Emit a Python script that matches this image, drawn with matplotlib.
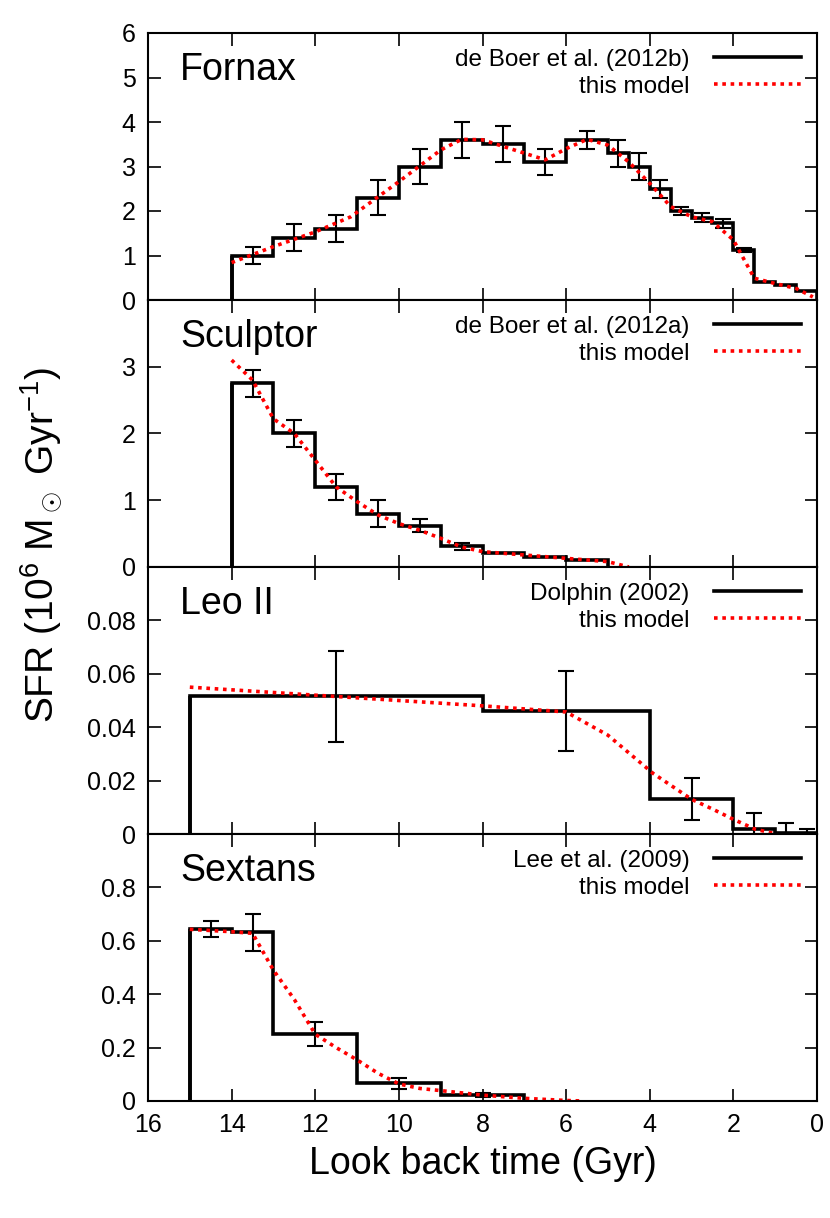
import matplotlib
matplotlib.use("Agg")
import matplotlib.pyplot as plt
import numpy as np

plt.rcParams['font.family'] = ['Liberation Sans', 'DejaVu Sans']
plt.rcParams['mathtext.fontset'] = 'custom'
plt.rcParams['mathtext.rm'] = 'Liberation Sans'

# ---- Fornax ----
forn_edges = [14, 13, 12, 11, 10, 9, 8, 7, 6, 5, 4.5, 4, 3.5, 3, 2.5, 2, 1.5, 1, 0.5, 0]
forn_sfr = [1.0, 1.4, 1.6, 2.3, 3.0, 3.6, 3.5, 3.1, 3.6, 3.3, 3.0, 2.5, 2.0, 1.85, 1.72, 1.12, 0.41, 0.34, 0.2]
forn_err_x = [13.5, 12.5, 11.5, 10.5, 9.5, 8.5, 7.5, 6.5, 5.5, 4.75, 4.25, 3.75, 3.25, 2.75, 2.25, 1.75]
forn_err_y = [1.0, 1.4, 1.6, 2.3, 3.0, 3.6, 3.5, 3.1, 3.6, 3.3, 3.0, 2.5, 2.0, 1.85, 1.72, 1.12]
forn_err = [0.2, 0.3, 0.3, 0.4, 0.4, 0.4, 0.4, 0.3, 0.2, 0.3, 0.3, 0.2, 0.1, 0.1, 0.1, 0.05]
forn_mod_t = [14, 13, 12, 11.15, 10, 9, 8.5, 8, 7, 6.5, 6, 5.5, 5, 4.5, 4, 3.5, 3, 2.5, 2, 1.5, 1, 0.5, 0.1]
forn_mod = [0.84, 1.2, 1.53, 1.87, 2.66, 3.37, 3.61, 3.6, 3.3, 3.15, 3.4, 3.61, 3.48, 3.1, 2.62, 2.1, 1.87, 1.76, 1.35, 0.49, 0.37, 0.26, 0.07]

# ---- Sculptor ----
scl_edges = [14, 13, 12, 11, 10, 9, 8, 7, 6, 5]
scl_sfr = [2.75, 2.0, 1.2, 0.8, 0.62, 0.31, 0.21, 0.15, 0.1]
scl_err_x = [13.5, 12.5, 11.5, 10.5, 9.5, 8.5]
scl_err_y = [2.75, 2.0, 1.2, 0.8, 0.62, 0.31]
scl_err = [0.2, 0.2, 0.2, 0.2, 0.1, 0.05]
scl_mod_t = [14, 13.5, 13, 12.5, 12, 11.5, 11, 10.5, 10, 9.5, 9, 8.5, 8, 7, 6, 5, 4.5]
scl_mod = [3.1, 2.8, 2.22, 2.0, 1.6, 1.2, 0.98, 0.78, 0.65, 0.55, 0.43, 0.3, 0.23, 0.18, 0.13, 0.08, 0.0]

# ---- Leo II ----
leo_edges = [15, 8, 4, 2, 1, 0.5, 0]
leo_sfr = [0.0515, 0.046, 0.013, 0.0018, 0.0005, 0.0003]
leo_err_x = [11.5, 6, 3, 1.5, 0.75, 0.25]
leo_err_y = [0.0515, 0.046, 0.013, 0.0018, 0.0005, 0.0003]
leo_err = [0.017, 0.015, 0.0078, 0.006, 0.0035, 0.0016]
leo_mod_t = [15, 12, 8, 6, 5, 3.92, 3, 2.48, 2, 1.48, 0.96]
leo_mod = [0.055, 0.052, 0.048, 0.0457, 0.037, 0.0227, 0.013, 0.0092, 0.0055, 0.0018, 0.0]

# ---- Sextans ----
sex_edges = [15, 14, 13, 11, 9, 7]
sex_sfr = [0.643, 0.632, 0.25, 0.066, 0.022]
sex_err_x = [14.5, 13.5, 12, 10, 8]
sex_err_y = [0.643, 0.632, 0.25, 0.066, 0.022]
sex_err = [0.03, 0.07, 0.045, 0.02, 0.007]
sex_mod_t = [15, 14, 13.5, 13, 12.5, 12, 11.5, 11, 10.5, 10, 9.5, 9, 8, 7, 6, 5.6]
sex_mod = [0.643, 0.634, 0.628, 0.49, 0.38, 0.25, 0.2, 0.154, 0.104, 0.064, 0.047, 0.039, 0.022, 0.01, 0.002, 0.0]

panels = [
    ("Fornax", "de Boer et al. (2012b)", forn_edges, forn_sfr, forn_err_x, forn_err_y, forn_err, forn_mod_t, forn_mod, 6, [0, 1, 2, 3, 4, 5, 6], None),
    ("Sculptor", "de Boer et al. (2012a)", scl_edges, scl_sfr, scl_err_x, scl_err_y, scl_err, scl_mod_t, scl_mod, 4, [0, 1, 2, 3], None),
    ("Leo II", "Dolphin (2002)", leo_edges, leo_sfr, leo_err_x, leo_err_y, leo_err, leo_mod_t, leo_mod, 0.1, [0, 0.02, 0.04, 0.06, 0.08], ["0", "0.02", "0.04", "0.06", "0.08"]),
    ("Sextans", "Lee et al. (2009)", sex_edges, sex_sfr, sex_err_x, sex_err_y, sex_err, sex_mod_t, sex_mod, 1.0, [0, 0.2, 0.4, 0.6, 0.8], ["0", "0.2", "0.4", "0.6", "0.8"]),
]

fig = plt.figure(figsize=(8.3, 12.18), dpi=100)
left, right, top, bottom = 148/830, 817/830, 1-33/1218, 1-1101/1218
h = (top - bottom) / 4
axes = []
for i, (name, ref, edges, sfr, ex, ey, ee, mt, mv, ymax, yt, ytl) in enumerate(panels):
    ax = fig.add_axes([left, top - (i+1)*h, right-left, h])
    axes.append(ax)
    e = np.array(edges, dtype=float)
    v = np.array(sfr, dtype=float)
    ax.stairs(v[::-1], e[::-1], color='black', lw=2.6, label=ref, baseline=0, fill=False)
    ax.vlines(e[0], 0, v[0], color='black', lw=2.6)
    ax.errorbar(ex, ey, yerr=ee, fmt='none', ecolor='black', elinewidth=1.5, capsize=6, capthick=1.5)
    ax.plot(mt, mv, color='red', lw=2.6, linestyle=(0, (1, 1.3)), label='this model')
    ax.set_xlim(16, 0)
    ax.set_ylim(0, ymax)
    ax.set_yticks(yt)
    if ytl is not None:
        ax.set_yticklabels(ytl)
    ax.set_xticks(range(0, 17, 2))
    ax.tick_params(direction='in', top=True, right=True, length=9, width=1.2, labelsize=18, pad=9)
    for s in ax.spines.values():
        s.set_linewidth(1.5)
    if i < 3:
        ax.tick_params(labelbottom=False)
    ax.text(0.048, 0.93, name, transform=ax.transAxes, fontsize=27, va='top', ha='left')
    leg = ax.legend(loc='upper right', frameon=False, markerfirst=False, fontsize=17.5,
                    handlelength=3.6, handletextpad=1.0, borderaxespad=0.25, labelspacing=0.2)
    for t in leg.get_texts():
        t.set_ha('right')

axes[-1].set_xlabel("Look back time (Gyr)", fontsize=27, labelpad=6)
fig.text(0.05, 1-545/1218, r"SFR (10$^6$ M$_\odot$ Gyr$^{-1}$)", rotation=90,
         fontsize=28, ha='center', va='center')

fig.savefig("out.png", dpi=100)
